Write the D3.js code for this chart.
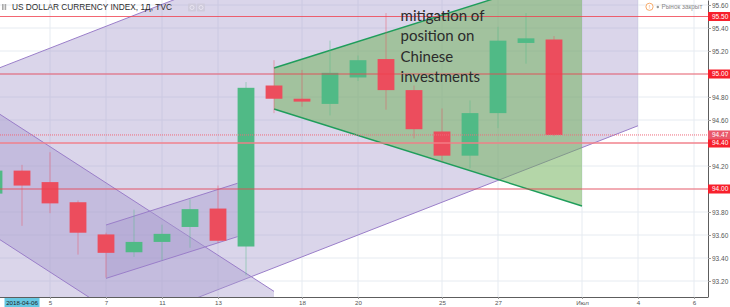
<!DOCTYPE html>
<html>
<head>
<meta charset="utf-8">
<script src="https://cdn.jsdelivr.net/npm/d3@7"></script>
<style>
  html, body { margin: 0; padding: 0; background: #fff; overflow: hidden; }
  svg { display: block; font-family: "Liberation Sans", Arial, sans-serif; }
</style>
</head>
<body>
<svg id="chart" width="730" height="307"></svg>
<script>
// daily bars, index 0 = 1 June 2018
const opens  = [93.96, 94.16, 94.06, 93.885, 93.605, 93.45, 93.54, 93.67, 93.83, 93.50,
                94.90, 94.785, 94.74, 94.97, 95.13, 94.86, 94.50, 94.29, 94.66, 95.27, 95.30]
const highs  = [94.25, 94.21, 94.32, 93.90, 93.62, 93.82, 93.69, 93.91, 94.03, 94.93,
                95.12, 95.035, 95.29, 95.16, 95.53, 94.90, 94.70, 94.77, 95.41, 95.53, 95.33]
const lows   = [93.92, 93.68, 93.79, 93.43, 93.23, 93.41, 93.38, 93.49, 93.53, 93.25,
                94.66, 94.716, 94.64, 94.94, 94.69, 94.44, 94.24, 94.18, 94.53, 95.09, 94.46]
const closes = [94.16, 94.03, 93.875, 93.62, 93.445, 93.54, 93.61, 93.825, 93.55, 94.88,
                94.785, 94.76, 95.01, 95.12, 94.86, 94.52, 94.29, 94.66, 95.29, 95.31, 94.47]

// time axis (bar index -> label)
const xTickIdx    = [2, 4, 6, 8, 11, 13, 16, 18, 21, 23, 25]
const xTickLabels = ["5", "7", "11", "13", "18", "20", "25", "27", "Июл", "4", "6"]
const cursorIdx = 1
const cursorLabel = "2018-04-06"

// price axis
const priceTicks = [93.2, 93.4, 93.6, 93.8, 94.0, 94.2, 94.4, 94.6, 94.8, 95.0, 95.2, 95.4, 95.6]
const redLevels = [95.5, 95.0, 94.0]
const supportLevel = 94.4
const lastPrice = 94.47

// drawings, [bar index, price]
const bigChannel   = { a: [-1, 94.94], b: [23, 97.22], width: 2.67 }
const downChannel  = { a: [-1, 94.84], b: [10, 93.11], width: 1.09 }
const upChannel    = { a: [4, 93.687], b: [8.7, 94.05], width: 0.464 }
const wedgeUpper   = [[10, 95.052], [21, 95.896]]
const wedgeLower   = [[10, 94.696], [21, 93.852]]
const noteAnchor   = [14.52, 95.461]
const noteLines    = ["mitigation of", "position on", "Chinese", "investments"]

const W = 708, H = 297

const svg = d3.select("#chart")

const x = d3.scaleLinear().domain([0.214, 25.5]).range([0, W])
const y = d3.scaleLinear().domain([93.061, 95.6435]).range([H, 0])

svg.append("defs").append("clipPath").attr("id", "plot")
    .append("rect").attr("width", W).attr("height", H)

const plot = svg.append("g").attr("clip-path", "url(#plot)")

// grid
plot.selectAll(".vgrid").data(xTickIdx).enter().append("line")
    .attr("x1", d => x(d)).attr("x2", d => x(d))
    .attr("y1", 0).attr("y2", H)
    .attr("stroke", "#e6ebf1").attr("stroke-width", 1)
plot.selectAll(".hgrid").data(priceTicks).enter().append("line")
    .attr("x1", 0).attr("x2", W)
    .attr("y1", d => y(d)).attr("y2", d => y(d))
    .attr("stroke", "#e6ebf1").attr("stroke-width", 1)

const pt = p => [x(p[0]), y(p[1])]

const drawChannel = function (ch, fill, stroke) {
    const a = ch.a, b = ch.b
    const a2 = [a[0], a[1] - ch.width], b2 = [b[0], b[1] - ch.width]
    plot.append("path")
        .attr("d", d3.line()([pt(a), pt(b), pt(b2), pt(a2)]) + "Z")
        .attr("fill", fill)
    plot.append("path").attr("d", d3.line()([pt(a), pt(b)]))
        .attr("stroke", stroke).attr("fill", "none")
    plot.append("path").attr("d", d3.line()([pt(a2), pt(b2)]))
        .attr("stroke", stroke).attr("fill", "none")
}

drawChannel(bigChannel, "rgba(166,155,204,0.42)", "#9a7ec9")
drawChannel(downChannel, "rgba(166,155,204,0.42)", "#9a7ec9")
drawChannel(upChannel, "rgba(166,155,204,0.42)", "#9a7ec9")

// broadening wedge
plot.append("path")
    .attr("d", d3.line()([pt(wedgeUpper[0]), pt(wedgeUpper[1]), pt(wedgeLower[1]), pt(wedgeLower[0])]) + "Z")
    .attr("fill", "rgba(112,176,88,0.52)")
plot.append("path").attr("d", d3.line()(wedgeUpper.map(pt)))
    .attr("stroke", "#1f9d5b").attr("stroke-width", 1.4).attr("fill", "none")
plot.append("path").attr("d", d3.line()(wedgeLower.map(pt)))
    .attr("stroke", "#1f9d5b").attr("stroke-width", 1.4).attr("fill", "none")

// candles
const upColor = "#50ba86", downColor = "#ec4d5d"
const bodyW = (x(1) - x(0)) * 0.6
const bars = d3.range(opens.length)

plot.selectAll(".wick").data(bars).enter().append("line")
    .attr("x1", i => x(i)).attr("x2", i => x(i))
    .attr("y1", i => y(highs[i])).attr("y2", i => y(lows[i]))
    .attr("stroke", i => closes[i] >= opens[i] ? upColor : downColor)
    .attr("stroke-opacity", 0.45)

plot.selectAll(".body").data(bars).enter().append("rect")
    .attr("x", i => x(i) - bodyW / 2)
    .attr("width", bodyW)
    .attr("y", i => y(Math.max(opens[i], closes[i])))
    .attr("height", i => Math.max(2, Math.abs(y(opens[i]) - y(closes[i]))))
    .attr("fill", i => closes[i] >= opens[i] ? upColor : downColor)

// horizontal levels
plot.selectAll(".level").data(redLevels).enter().append("line")
    .attr("x1", 0).attr("x2", W)
    .attr("y1", d => y(d)).attr("y2", d => y(d))
    .attr("stroke", "#f0404f").attr("stroke-opacity", 0.8)
plot.append("line")
    .attr("x1", 0).attr("x2", W)
    .attr("y1", y(supportLevel)).attr("y2", y(supportLevel))
    .attr("stroke", "#f57d88").attr("stroke-width", 2).attr("stroke-opacity", 0.7)
plot.append("line")
    .attr("x1", 0).attr("x2", W)
    .attr("y1", y(lastPrice)).attr("y2", y(lastPrice))
    .attr("stroke", "#ee6a7c").attr("stroke-dasharray", "1,1")

// note
const note = plot.append("text")
    .attr("x", x(noteAnchor[0])).attr("y", y(noteAnchor[1]))
    .attr("font-family", "Lato, sans-serif").attr("font-size", 15)
    .attr("fill", "#2b2b2b")
note.selectAll("tspan").data(noteLines).enter().append("tspan")
    .attr("x", x(noteAnchor[0]))
    .attr("dy", (d, k) => k === 0 ? 0 : 20.3)
    .text(d => d)

// axes
const yAxis = svg.append("g").attr("transform", `translate(${W},0)`)
    .call(d3.axisRight(y).tickValues(priceTicks).tickSize(3).tickSizeOuter(0)
        .tickFormat(d3.format(".2f")))
yAxis.select(".domain").attr("stroke", "#5d5d5d")
yAxis.selectAll(".tick line").attr("stroke", "#9a9a9a")
yAxis.selectAll(".tick text").attr("font-size", 6.5).attr("fill", "#555").attr("x", 4)

const xAxis = svg.append("g").attr("transform", `translate(0,${H})`)
    .call(d3.axisBottom(x).tickValues(xTickIdx).tickSize(2).tickSizeOuter(0)
        .tickFormat((d, k) => xTickLabels[k]))
xAxis.select(".domain").attr("stroke", "#5d5d5d").attr("d", `M0,0.5H${W}`)
xAxis.selectAll(".tick line").attr("stroke", "#9a9a9a")
xAxis.selectAll(".tick text").attr("font-size", 6.2).attr("fill", "#555").attr("y", 4)

// price labels on the axis
const priceTag = function (v, fill) {
    const g = svg.append("g").attr("transform", `translate(${W},${y(v)})`)
    g.append("rect").attr("x", 0).attr("y", -4.5).attr("width", 22).attr("height", 9).attr("fill", fill)
    g.append("text").attr("x", 4).attr("dy", "0.35em")
        .attr("font-size", 6.5).attr("fill", "#fff").text(d3.format(".2f")(v))
}
redLevels.forEach(v => priceTag(v, "#f7202c"))
priceTag(supportLevel, "#f7202c")
priceTag(lastPrice, "#e9596c")

// date label under the cursor
const cw = 35
const cx = Math.max(x(cursorIdx), cw / 2)
svg.append("rect").attr("x", cx - cw / 2).attr("y", H + 1).attr("width", cw).attr("height", 10).attr("fill", "#65c7e2")
svg.append("text").attr("x", cx).attr("y", H + 8.3).attr("text-anchor", "middle")
    .attr("font-size", 6.2).attr("fill", "#1d1d1d").text(cursorLabel)

// title
svg.append("rect").attr("x", 2).attr("y", 4).attr("width", 1.6).attr("height", 6).attr("fill", "#aaa")
svg.append("rect").attr("x", 4.6).attr("y", 4).attr("width", 1.6).attr("height", 6).attr("fill", "#aaa")
svg.append("text").attr("x", 12).attr("y", 10)
    .attr("font-size", 8.3).attr("fill", "#2e2e2e").text("US DOLLAR CURRENCY INDEX, 1Д, TVC")
;[188, 197].forEach(bx => {
    svg.append("rect").attr("x", bx).attr("y", 3.5).attr("width", 8).attr("height", 8).attr("rx", 1)
        .attr("fill", "#cfcbdc")
    svg.append("circle").attr("cx", bx + 4).attr("cy", 7.5).attr("r", 2).attr("fill", "none")
        .attr("stroke", "#eeeaf4").attr("stroke-width", 0.8)
})

// market status
svg.append("circle").attr("cx", 649.5).attr("cy", 6.8).attr("r", 3.6)
    .attr("fill", "#fff").attr("stroke", "#f5a25a").attr("stroke-width", 0.9)
svg.append("text").attr("x", 649.5).attr("y", 9.2).attr("text-anchor", "middle")
    .attr("font-size", 6).attr("fill", "#f5a25a").text("!")
svg.append("circle").attr("cx", 657.8).attr("cy", 7).attr("r", 1.2).attr("fill", "#999")
svg.append("text").attr("x", 661.5).attr("y", 9.3)
    .attr("font-size", 6.4).attr("fill", "#8a8a8a").text("Рынок закрыт")
</script>
</body>
</html>
